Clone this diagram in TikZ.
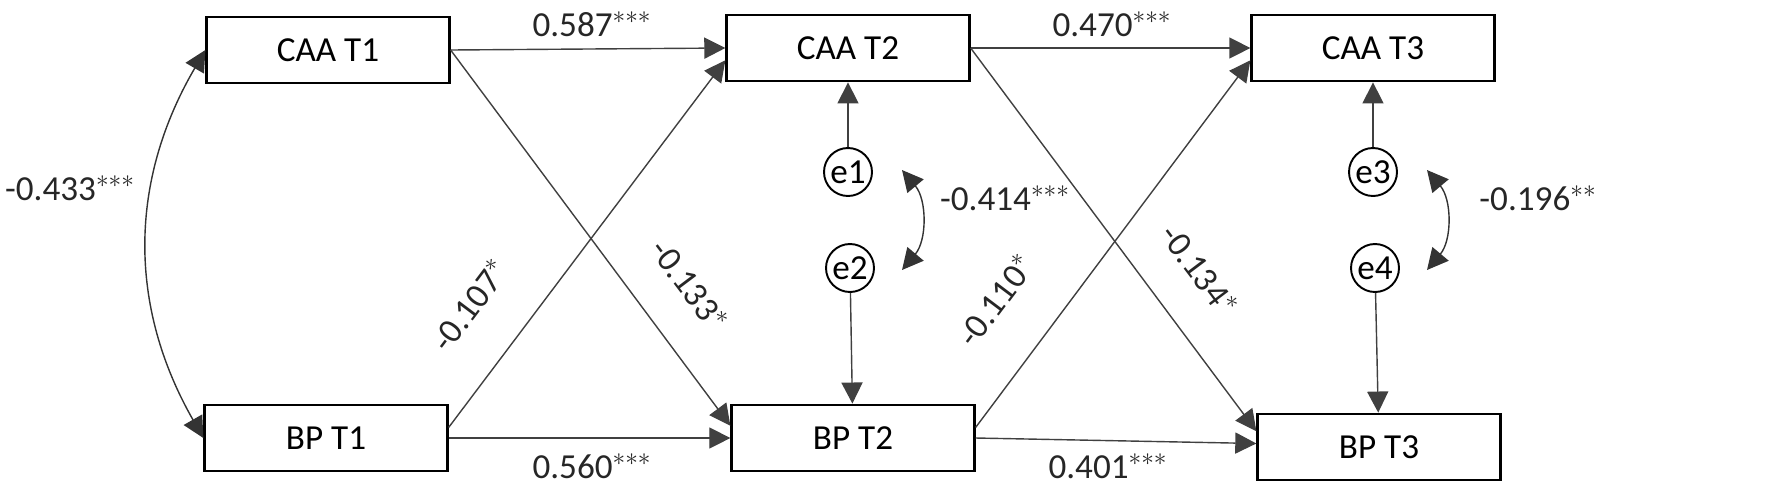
\documentclass[tikz,border=0pt]{standalone}
\usepackage{fontspec}
\setmainfont{Carlito}
\usetikzlibrary{arrows.meta}
\begin{document}
\begin{tikzpicture}[x=0.02cm,y=-0.02cm,
  box/.style={draw,line width=1.6pt,minimum width=4.85cm,minimum height=1.32cm,inner sep=0pt,font=\fontsize{20}{24}\selectfont},
  err/.style={draw,circle,line width=1.1pt,minimum size=0.96cm,inner sep=0pt,font=\fontsize{20}{24}\selectfont},
  path/.style={draw=black!75,line width=0.8pt,-{Triangle[length=12pt,width=12pt]}},
  cov/.style={draw=black!80,line width=0.8pt,{Triangle[length=12pt,width=12pt]}-{Triangle[length=12pt,width=12pt]}},
  lab/.style={font=\fontsize{20}{24}\selectfont,text=black!85}]
\useasboundingbox (0,0) rectangle (1772,488);
\node[box] (c1) at (328,50) {CAA T1};
\node[box] (b1) at (326,438) {BP T1};
\node[box] (c2) at (848,48) {CAA T2};
\node[box] (b2) at (853,438) {BP T2};
\node[box] (c3) at (1373,48) {CAA T3};
\node[box] (b3) at (1379,447) {BP T3};
\node[err] (e1) at (848,172) {e1};
\node[err] (e2) at (850,268) {e2};
\node[err] (e3) at (1373,172) {e3};
\node[err] (e4) at (1375,268) {e4};
\draw[path] (c1.east) -- (c2.west);
\draw[path] (b1.east) -- (b2.west);
\draw[path] (c1.east) -- ([yshift=7pt]b2.west);
\draw[path] ([yshift=6pt]b1.east) -- ([yshift=-7pt]c2.west);
\draw[path] (c2.east) -- (c3.west);
\draw[path] (b2.east) -- ([yshift=2pt]b3.west);
\draw[path] (c2.east) -- ([yshift=9pt]b3.west);
\draw[path] ([yshift=6pt]b2.east) -- ([yshift=-7pt]c3.west);
\draw[path] (e1) -- (c2);
\draw[path] (e2) -- (b2);
\draw[path] (e3) -- (c3);
\draw[path] (e4) -- (b3);
\coordinate (k1) at (902,170); \coordinate (k2) at (902,270);
\coordinate (k3) at (1427,170); \coordinate (k4) at (1427,270);
\draw[cov] (k1) to[bend left=40] (k2);
\draw[cov] (k3) to[bend left=40] (k4);
\draw[cov] (c1.west) to[bend right=30] (b1.west);
\node[lab] (l0) at (70,188) {-0.433$^{***}$};
\node[lab] (l1) at (592,24) {0.587$^{***}$};
\node[lab] (l2) at (592,466) {0.560$^{***}$};
\node[lab] (l3) at (1112,24) {0.470$^{***}$};
\node[lab] (l4) at (1108,466) {0.401$^{***}$};
\node[lab] (l5) at (1005,198) {-0.414$^{***}$};
\node[lab] (l6) at (1538,198) {-0.196$^{**}$};
\node[lab,rotate=53] (l7) at (470,305) {-0.107$^{*}$};
\node[lab,rotate=-53] (l8) at (690,285) {-0.133$^{*}$};
\node[lab,rotate=53] (l9) at (996,300) {-0.110$^{*}$};
\node[lab,rotate=-53] (l10) at (1200,270) {-0.134$^{*}$};
\end{tikzpicture}
\end{document}
